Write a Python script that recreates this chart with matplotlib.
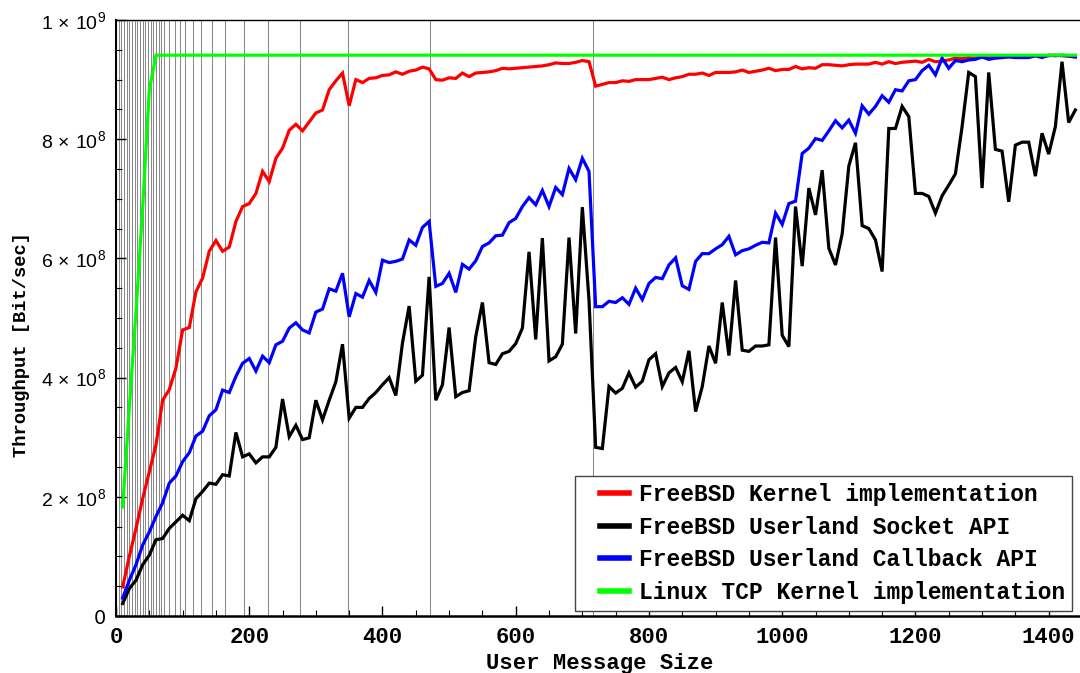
import numpy as np
import matplotlib.pyplot as plt
from matplotlib.ticker import MultipleLocator, FixedLocator
from matplotlib.legend_handler import HandlerLine2D

# message sizes (bytes) and throughput readings in units of 1e8 bit/sec
sizes = list(range(10, 1441, 10))

kernel_bsd = [
    0.49, 1.00, 1.47, 1.97, 2.42, 2.87, 3.62, 3.80, 4.16, 4.80,
    4.84, 5.44, 5.67, 6.12, 6.30, 6.12, 6.19, 6.62, 6.87, 6.92,
    7.09, 7.46, 7.29, 7.68, 7.85, 8.15, 8.25, 8.14, 8.29, 8.44,
    8.49, 8.83, 8.98, 9.11, 8.56, 9.00, 8.95, 9.02, 9.03, 9.07,
    9.08, 9.13, 9.09, 9.14, 9.16, 9.21, 9.18, 9.00, 8.99, 9.03,
    9.02, 9.11, 9.05, 9.11, 9.12, 9.13, 9.15, 9.19, 9.18, 9.19,
    9.20, 9.21, 9.22, 9.23, 9.25, 9.28, 9.27, 9.27, 9.29, 9.32,
    9.30, 8.89, 8.92, 8.95, 8.95, 8.98, 8.97, 9.00, 9.00, 9.00,
    9.02, 9.04, 9.00, 9.03, 9.05, 9.09, 9.09, 9.11, 9.07, 9.12,
    9.12, 9.12, 9.13, 9.16, 9.12, 9.14, 9.16, 9.19, 9.15, 9.17,
    9.17, 9.22, 9.18, 9.20, 9.19, 9.25, 9.25, 9.24, 9.23, 9.25,
    9.26, 9.26, 9.26, 9.29, 9.26, 9.30, 9.27, 9.29, 9.30, 9.31,
    9.29, 9.34, 9.30, 9.31, 9.33, 9.36, 9.35, 9.37, 9.36, 9.38,
    9.37, 9.38, 9.37, 9.39, 9.38, 9.40, 9.39, 9.40, 9.39, 9.40,
    9.41, 9.40, 9.39, 9.38,
]

socket_api = [
    0.21, 0.46, 0.60, 0.86, 1.02, 1.28, 1.30, 1.47, 1.58, 1.69,
    1.60, 1.97, 2.09, 2.23, 2.21, 2.37, 2.35, 3.08, 2.67, 2.72,
    2.57, 2.67, 2.67, 2.83, 3.64, 3.01, 3.20, 2.96, 2.99, 3.62,
    3.29, 3.62, 3.93, 4.56, 3.32, 3.50, 3.50, 3.65, 3.75, 3.88,
    4.00, 3.70, 4.58, 5.20, 3.94, 4.04, 5.69, 3.62, 3.88, 4.84,
    3.68, 3.75, 3.78, 4.69, 5.26, 4.25, 4.22, 4.40, 4.44, 4.57,
    4.83, 6.11, 4.64, 6.34, 4.28, 4.35, 4.56, 6.35, 4.74, 6.86,
    5.30, 2.83, 2.81, 3.85, 3.74, 3.82, 4.08, 3.84, 3.94, 4.30,
    4.40, 3.85, 4.08, 4.17, 3.93, 4.45, 3.43, 3.85, 4.53, 4.24,
    5.26, 4.37, 5.63, 4.46, 4.44, 4.53, 4.53, 4.55, 6.35, 4.71,
    4.52, 6.87, 5.87, 7.18, 6.73, 7.48, 6.17, 5.89, 6.41, 7.55,
    7.94, 6.55, 6.50, 6.31, 5.78, 8.18, 8.18, 8.55, 8.38, 7.09,
    7.09, 7.04, 6.76, 7.05, 7.23, 7.42, 8.21, 9.12, 9.05, 7.18,
    9.12, 7.83, 7.80, 6.95, 7.90, 7.95, 7.95, 7.38, 8.10, 7.75,
    8.21, 9.30, 8.28, 8.49,
]

callback_api = [
    0.30, 0.60, 0.86, 1.19, 1.41, 1.67, 1.90, 2.23, 2.35, 2.59,
    2.74, 3.02, 3.10, 3.36, 3.46, 3.79, 3.75, 4.02, 4.24, 4.32,
    4.11, 4.36, 4.25, 4.55, 4.61, 4.83, 4.92, 4.80, 4.75, 5.10,
    5.15, 5.49, 5.45, 5.75, 5.02, 5.41, 5.35, 5.63, 5.43, 5.97,
    5.93, 5.95, 5.99, 6.31, 6.22, 6.52, 6.62, 5.53, 5.58, 5.75,
    5.43, 5.90, 5.82, 5.96, 6.20, 6.26, 6.38, 6.39, 6.60, 6.67,
    6.87, 7.02, 6.90, 7.14, 6.87, 7.19, 7.07, 7.51, 7.32, 7.68,
    7.46, 5.19, 5.19, 5.28, 5.26, 5.34, 5.23, 5.50, 5.31, 5.58,
    5.68, 5.66, 5.89, 6.01, 5.54, 5.48, 5.95, 6.08, 6.08, 6.16,
    6.23, 6.37, 6.06, 6.13, 6.16, 6.22, 6.27, 6.26, 6.76, 6.57,
    6.92, 6.96, 7.76, 7.85, 8.01, 7.98, 8.14, 8.31, 8.19, 8.32,
    8.10, 8.56, 8.42, 8.55, 8.73, 8.62, 8.83, 8.81, 8.98, 9.00,
    9.15, 9.24, 9.08, 9.36, 9.19, 9.32, 9.30, 9.33, 9.34, 9.38,
    9.34, 9.36, 9.37, 9.38, 9.37, 9.37, 9.37, 9.40, 9.37, 9.41,
    9.40, 9.41, 9.40, 9.38,
]

linux_tcp = [1.83, 3.50, 5.10, 6.85, 8.83] + [9.41] * 139

series = [
    ("FreeBSD Kernel implementation", kernel_bsd, (1, 0, 0)),
    ("FreeBSD Userland Socket API", socket_api, (0, 0, 0)),
    ("FreeBSD Userland Callback API", callback_api, (0, 0, 1)),
    ("Linux TCP Kernel implementation", linux_tcp, (0, 1, 0)),
]

# largest 4-byte aligned message size for n messages per packet
# (1468 bytes of payload room, 16 byte chunk header each)
packing_sizes = sorted({4 * int((1468 / n - 16) // 4) for n in range(2, 92)} - {0})


class ShortHandle(HandlerLine2D):
    # legend line drawn only in the right part of the handle box
    def get_xdata(self, legend, xdescent, ydescent, width, height, fontsize):
        xd = np.array([-xdescent + width * 0.40, -xdescent + width])
        return xd, xd


mono = "Liberation Mono"
plt.rcParams["mathtext.fontset"] = "custom"
plt.rcParams["mathtext.rm"] = "Liberation Sans"
plt.rcParams["mathtext.it"] = "Liberation Sans:italic"

fig = plt.figure(figsize=(10.8, 6.73), dpi=100)
ax = fig.add_axes([116 / 1080, 57 / 673, 964 / 1080, 596 / 673])

for xs in packing_sizes:
    ax.axvline(xs, color="#8a8a8a", lw=0.75, zorder=1)

for name, vals, col in series:
    ax.plot(sizes, np.array(vals) * 1e8, color=col, lw=2.3, label=name,
            solid_joinstyle="miter", zorder=3)

ax.set_xlim(0, 1447)
ax.set_ylim(0, 1e9)

ax.xaxis.set_major_locator(MultipleLocator(200))
ax.xaxis.set_minor_locator(MultipleLocator(50))
ax.yaxis.set_major_locator(FixedLocator([0, 2e8, 4e8, 6e8, 8e8, 1e9]))
ax.yaxis.set_minor_locator(MultipleLocator(5e7))
ax.set_yticklabels(["0", r"$2\,\times\,10^{8}$", r"$4\,\times\,10^{8}$", r"$6\,\times\,10^{8}$",
                    r"$8\,\times\,10^{8}$", r"$1\,\times\,10^{9}$"], fontsize=14)
for lab in ax.get_xticklabels():
    lab.set_fontfamily(mono)
    lab.set_fontweight("bold")
    lab.set_fontsize(16)

ax.tick_params(which="both", direction="in", top=False, right=False, color="black")
ax.tick_params(which="major", length=7, width=1)
ax.tick_params(which="minor", length=4, width=0.8)
ax.tick_params(axis="x", pad=8)
ax.tick_params(axis="y", pad=7)

ax.spines["right"].set_visible(False)
ax.spines["top"].set_linewidth(1.0)
ax.spines["left"].set_linewidth(1.5)
ax.spines["bottom"].set_linewidth(1.8)

ax.set_xlabel("User Message Size", fontfamily=mono, fontweight="bold", fontsize=16)
ax.set_ylabel("Throughput [Bit/sec]", fontfamily=mono, fontweight="bold", fontsize=13.5)
ax.xaxis.set_label_coords(0.5015, -0.0615)
ax.yaxis.set_label_coords(-0.0892, 0.455)

leg = ax.legend(loc="lower right", bbox_to_anchor=(1072 / 1080, 62 / 673),
                bbox_transform=fig.transFigure, prop={"family": mono, "weight": "bold", "size": 16.5},
                fancybox=False, framealpha=1, edgecolor="#444444", handlelength=2.05,
                handletextpad=0.45, labelspacing=0.42, borderpad=0.3, borderaxespad=0,
                handler_map={plt.Line2D: ShortHandle()})
leg.get_frame().set_linewidth(1.0)
for line in leg.get_lines():
    line.set_linewidth(4)

fig.savefig("out.png", dpi=100)
